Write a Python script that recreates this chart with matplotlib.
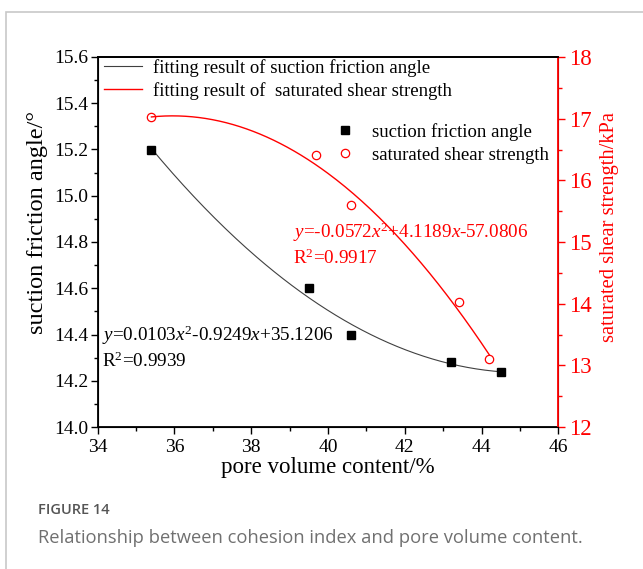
import numpy as np
import matplotlib
matplotlib.use("Agg")
import matplotlib.pyplot as plt
from matplotlib.lines import Line2D
from matplotlib.patches import Rectangle
from matplotlib.ticker import MultipleLocator, FormatStrFormatter

plt.rcParams['font.family'] = ['Liberation Serif', 'DejaVu Serif']
plt.rcParams['mathtext.fontset'] = 'custom'
plt.rcParams['mathtext.rm'] = 'Liberation Serif'
plt.rcParams['mathtext.it'] = 'Liberation Serif:italic'

# suction friction angle (left axis)
pore_angle = [35.4, 39.5, 40.6, 43.2, 44.5]
friction_angle = [15.20, 14.60, 14.40, 14.28, 14.24]

# saturated shear strength (right axis)
pore_shear = [35.4, 39.7, 40.6, 43.4, 44.2]
shear_strength = [17.02, 16.41, 15.60, 14.02, 13.10]

eq_angle = "$y$=0.0103$x^2$-0.9249$x$+35.1206"
r2_angle = "R$^2$=0.9939"
eq_shear = "$y$=-0.0572$x^2$+4.1189$x$-57.0806"
r2_shear = "R$^2$=0.9917"

fig = plt.figure(figsize=(6.43, 5.69), dpi=100)

# outer frame of the figure panel
fig.patches.append(Rectangle((6/643, -0.1), 1.0, 1 - 12/569 + 0.1, transform=fig.transFigure,
                             fill=False, edgecolor='#c8c8c8', linewidth=1.2))

ax = fig.add_axes([97.7/643, 1 - 427/569, 460.6/643, 370/569])
ax2 = ax.twinx()

# fitted curves (quadratic)
c1 = np.polyfit(pore_angle, friction_angle, 2)
xs1 = np.linspace(min(pore_angle), max(pore_angle), 200)
ax.plot(xs1, np.polyval(c1, xs1), color='#404040', lw=0.8)
ax.plot(pore_angle, friction_angle, 's', color='black', ms=6, ls='none')

c2 = np.polyfit(pore_shear, shear_strength, 2)
xs2 = np.linspace(min(pore_shear), max(pore_shear), 200)
ax2.plot(xs2, np.polyval(c2, xs2), color='red', lw=1.0)
ax2.plot(pore_shear, shear_strength, 'o', mfc='none', mec='red', ms=6, mew=0.9, ls='none')

ax.set_xlim(34, 46)
ax.set_ylim(14.0, 15.6)
ax2.set_ylim(12, 18)
ax.xaxis.set_major_locator(MultipleLocator(2))
ax.xaxis.set_minor_locator(MultipleLocator(1))
ax.yaxis.set_major_locator(MultipleLocator(0.2))
ax.yaxis.set_minor_locator(MultipleLocator(0.1))
ax.yaxis.set_major_formatter(FormatStrFormatter('%.1f'))
ax2.yaxis.set_major_locator(MultipleLocator(1))
ax2.yaxis.set_minor_locator(MultipleLocator(0.5))

ax.tick_params(which='major', direction='out', length=5, width=1, labelsize=14, pad=2)
ax.tick_params(axis='x', which='major', pad=4)
ax.tick_params(which='minor', direction='out', length=3, width=1)
ax2.tick_params(which='major', direction='out', length=5, width=1, colors='red', labelsize=16.5, pad=3)
ax2.tick_params(which='minor', direction='out', length=3, width=1, colors='red')
for lab in ax.get_xticklabels() + ax.get_yticklabels() + ax2.get_yticklabels():
    lab.set_fontfamily('Liberation Serif')

for s in ['left', 'bottom', 'top']:
    ax.spines[s].set_linewidth(1.3)
ax2.spines['right'].set_color('red')
ax2.spines['right'].set_linewidth(1.3)
ax2.spines['top'].set_linewidth(1.3)

ax.set_xlabel('pore volume content/%', fontsize=16.5, labelpad=0)
ax.set_ylabel('suction friction angle/°', fontsize=17.5)
ax.yaxis.set_label_coords(-0.108, 0.554)
ax2.set_ylabel('saturated shear strength/kPa', fontsize=14.8, color='red')
ax2.yaxis.set_label_coords(1.09, 0.54)

# legends
h1 = [Line2D([], [], color='#404040', lw=0.8), Line2D([], [], color='red', lw=1.0)]
leg1 = ax2.legend(h1, ['fitting result of suction friction angle', 'fitting result of  saturated shear strength'],
                  loc='upper left', bbox_to_anchor=(0.0, 1.012), frameon=False, fontsize=13.5,
                  handlelength=2.05, handletextpad=0.55, labelspacing=0.27,
                  borderpad=0.3, borderaxespad=0.03)
ax2.add_artist(leg1)
h2 = [Line2D([], [], marker='s', color='black', ls='none', ms=6),
      Line2D([], [], marker='o', mfc='none', mec='red', ls='none', ms=6, mew=0.9)]
ax2.legend(h2, ['suction friction angle', 'saturated shear strength'],
           loc='upper left', bbox_to_anchor=(0.5, 0.842), frameon=False, fontsize=13.5,
           handlelength=1.0, handletextpad=0.93, labelspacing=0.3, borderaxespad=0.0)

# equations
ax.text(34.12, 14.395, eq_angle, fontsize=13.8, va='center', ha='left')
ax.text(34.12, 14.285, r2_angle, fontsize=13.8, va='center', ha='left')
ax2.text(39.1, 15.15, eq_shear, fontsize=13.8, va='center', ha='left', color='red')
ax2.text(39.1, 14.74, r2_shear, fontsize=13.8, va='center', ha='left', color='red')

# caption
fig.text(38/643, 1 - 510/569, 'FIGURE 14', fontsize=10.5, color='#555555', family='Open Sans',
         weight='semibold', va='center', ha='left')
fig.text(38/643, 1 - 538/569, 'Relationship between cohesion index and pore volume content.',
         fontsize=13.2, color='#707070', family='Open Sans', va='center', ha='left')

fig.savefig('out.png', dpi=100)
